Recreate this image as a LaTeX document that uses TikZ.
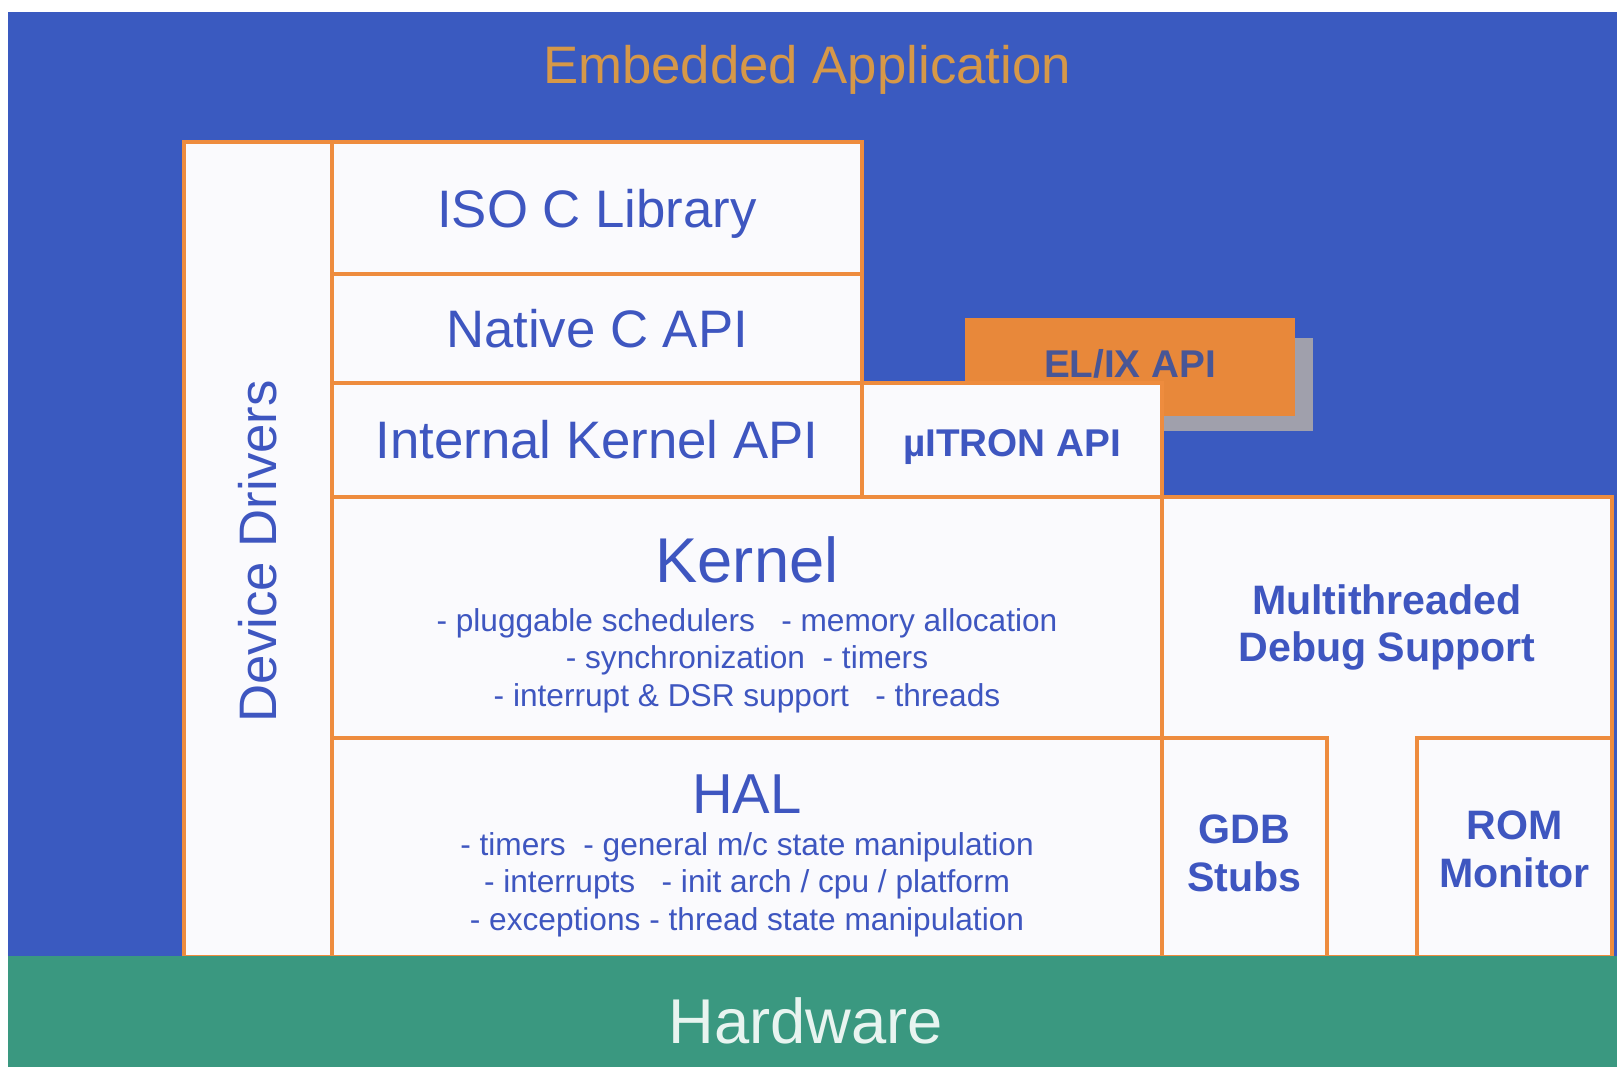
\documentclass[tikz,border=0pt]{standalone}
\usepackage{fontspec}
\setmainfont{Liberation Sans}
\usepackage{xcolor}
\usepackage{tikz}
\usetikzlibrary{positioning, fit, calc}
\definecolor{AppBlue}{RGB}{58,90,192}
\definecolor{AppGold}{RGB}{214,152,72}
\definecolor{LayerOrange}{RGB}{238,140,62}
\definecolor{BoxWhite}{RGB}{250,250,253}
\definecolor{LabelBlue}{RGB}{62,86,192}
\definecolor{ElixOrange}{RGB}{232,136,58}
\definecolor{ElixText}{RGB}{72,86,150}
\definecolor{ShadowGray}{RGB}{160,160,172}
\definecolor{HwGreen}{RGB}{58,152,128}
\definecolor{HwText}{RGB}{232,244,240}
\tikzset{
	every node/.style={
		align=center,
	},
	area-node/.style={
		rectangle,
		inner sep=0pt,
		draw=none,
	},
	layer-node/.style={
		rectangle,
		draw=LayerOrange, line width=1pt,
		fill=BoxWhite,
		inner sep=0pt,
	},
	layer-label/.style={
		text=LabelBlue,
		font=\fontsize{15}{18}\selectfont,
	},
	bold-label/.style={
		text=LabelBlue,
		font=\fontsize{11.7}{13.5}\selectfont\bfseries,
	},
	title-label/.style={
		text=LabelBlue,
		font=\fontsize{18}{20}\selectfont,
	},
	list-label/.style={
		text=LabelBlue,
		font=\fontsize{9}{10.7}\selectfont,
	},
}

\begin{document}
\begin{tikzpicture}[x=0.01cm, y=-0.01cm]
	\useasboundingbox (0,0) rectangle (1617,1067);
	% application area
	\node (app) [area-node, fill=AppBlue, fit={(8,12) (1617,957)}] {};
	\node (app-label) [text=AppGold, font=\fontsize{15}{18}\selectfont] at (807,70) {Embedded Application};
	% el/ix with its shadow
	\node (elix-shadow) [area-node, fill=ShadowGray, fit={(983,338) (1313,431)}] {};
	\node (elix) [area-node, fill=ElixOrange, fit={(965,318) (1295,416)}] {};
	\node (elix-label) [text=ElixText, font=\fontsize{11}{13}\selectfont\bfseries] at ($(elix.center)+(0,-3)$) {EL/IX API};
	% api layers
	\node (drivers) [layer-node, fit={(184,142) (332,957)}] {};
	\node (drivers-label) [layer-label, rotate=90] at ($(drivers.center)+(0,2)$) {Device Drivers};
	\node (iso) [layer-node, fit={(332,142) (862,274)}] {};
	\node (iso-label) [layer-label] at ($(iso.center)+(0,6)$) {ISO C Library};
	\node (native) [layer-node, fit={(332,274) (862,383)}] {};
	\node (native-label) [layer-label] at (native.center) {Native C API};
	\node (internal) [layer-node, fit={(332,383) (862,497)}] {};
	\node (internal-label) [layer-label] at (internal.center) {Internal Kernel API};
	\node (itron) [layer-node, fit={(862,383) (1162,497)}] {};
	\node (itron-label) [text=LabelBlue, font=\fontsize{11}{13}\selectfont\bfseries] at ($(itron.center)+(0,7)$) {µITRON API};
	% kernel and hal
	\node (kernel) [layer-node, fit={(332,497) (1162,738)}] {};
	\node (kernel-title) [title-label] at ($(kernel.north)+(0,65)$) {Kernel};
	\node (kernel-list) [list-label] at ($(kernel.center)+(0,43)$) {- pluggable schedulers \ \ - memory allocation\\- synchronization \ - timers\\- interrupt \& DSR support \ \ - threads};
	\node (hal) [layer-node, fit={(332,738) (1162,957)}] {};
	\node (hal-title) [title-label, font=\fontsize{16}{18}\selectfont] at ($(hal.north)+(0,58)$) {HAL};
	\node (hal-list) [list-label] at ($(hal.center)+(0,37)$) {- timers \ - general m/c state manipulation\\- interrupts \ \ - init arch / cpu / platform\\- exceptions - thread state manipulation};
	% debug support
	\node (debug) [layer-node, fit={(1162,497) (1612,957)}] {};
	\node (debug-label) [bold-label] at ($(debug.north)+(0,132)$) {Multithreaded\\Debug Support};
	\node (gdb) [layer-node, fit={(1162,738) (1327,957)}] {};
	\node (gdb-label) [bold-label] at ($(gdb.center)+(0,6)$) {GDB\\Stubs};
	\node (rom) [layer-node, fit={(1417,738) (1612,957)}] {};
	\node (rom-label) [bold-label] at ($(rom.center)+(0,2)$) {ROM\\Monitor};
	% hardware
	\node (hardware) [area-node, fill=HwGreen, fit={(8,956) (1617,1067)}] {};
	\node (hardware-label) [text=HwText, font=\fontsize{18}{20}\selectfont] at (806,1021) {Hardware};
\end{tikzpicture}
\end{document}
